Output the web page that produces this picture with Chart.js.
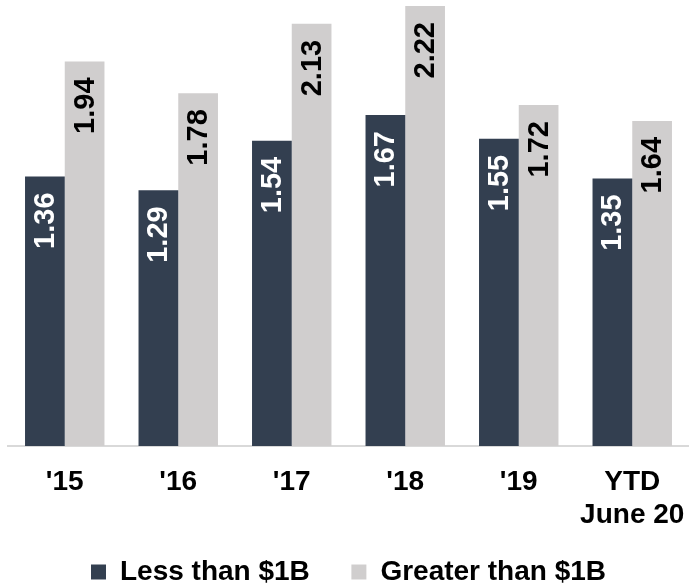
<!DOCTYPE html>
<html>
<head>
<meta charset="utf-8">
<script src="https://cdn.jsdelivr.net/npm/chart.js@4.4.1/dist/chart.umd.min.js"></script>
<style>
  body { margin: 0; background: #fff; }
  #chart { display: block; }
</style>
</head>
<body>
<canvas id="chart" width="689" height="588"></canvas>
<script>
const labels = ["'15", "'16", "'17", "'18", "'19", ["YTD", "June 20"]];
const lessThan = [1.36, 1.29, 1.54, 1.67, 1.55, 1.35];
const greaterThan = [1.94, 1.78, 2.13, 2.22, 1.72, 1.64];
const seriesNames = ["Less than $1B", "Greater than $1B"];

const fontFamily = "'Liberation Sans', Arial, sans-serif";

// values written vertically inside the top of each bar
const barLabels = {
  id: "barLabels",
  afterDatasetsDraw(chart) {
    const ctx = chart.ctx;
    chart.data.datasets.forEach((ds, i) => {
      chart.getDatasetMeta(i).data.forEach((bar, j) => {
        ctx.save();
        ctx.translate(bar.x, bar.y + 16);
        ctx.rotate(-Math.PI / 2);
        ctx.font = "bold 29px " + fontFamily;
        ctx.fillStyle = ds.labelColor;
        ctx.textAlign = "right";
        ctx.textBaseline = "middle";
        ctx.fillText(ds.data[j].toFixed(2), 0, 1);
        ctx.restore();
      });
    });
  },
};

const data = {
  labels: labels,
  datasets: [
    {
      label: seriesNames[0],
      data: lessThan,
      backgroundColor: "#333f50",
      labelColor: "#ffffff",
    },
    {
      label: seriesNames[1],
      data: greaterThan,
      backgroundColor: "#d0cece",
      labelColor: "#000000",
    },
  ],
};

const config = {
  type: "bar",
  data: data,
  plugins: [barLabels],
  options: {
    responsive: false,
    animation: false,
    devicePixelRatio: 1,
    categoryPercentage: 0.7,
    barPercentage: 1.0,
    layout: {
      padding: { top: 6, left: 8, right: 0, bottom: -8 },
    },
    plugins: {
      tooltip: { enabled: false },
      legend: {
        position: "bottom",
        labels: {
          boxWidth: 15,
          boxHeight: 15,
          padding: 26,
          color: "#000",
          font: { family: fontFamily, size: 28, weight: "bold" },
          generateLabels: (chart) => {
            const items = Chart.defaults.plugins.legend.labels.generateLabels(chart);
            // a bit more room between the two entries
            items[0].text = items[0].text + "  ";
            items.forEach((it) => { it.lineWidth = 0; });
            return items;
          },
        },
      },
    },
    scales: {
      y: {
        display: false,
        min: 0,
        max: 2.22,
      },
      x: {
        afterFit: (scale) => {
          scale.height = 86;
          scale.paddingLeft = 0;
          scale.paddingRight = 0;
        },
        grid: { display: false, drawTicks: false },
        border: { display: true, color: "#d9d9d9", width: 2 },
        ticks: {
          padding: 20,
          color: "#000",
          maxRotation: 0,
          font: { family: fontFamily, size: 28, weight: "bold", lineHeight: 1.18 },
        },
      },
    },
  },
};

const chart = new Chart(document.querySelector("#chart").getContext("2d"), config);
</script>
</body>
</html>
